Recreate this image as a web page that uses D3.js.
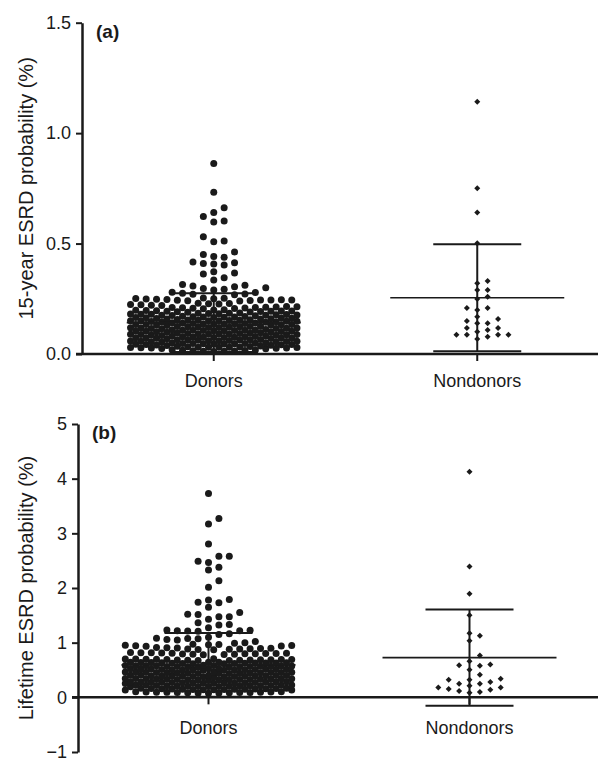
<!DOCTYPE html>
<html>
<head>
<meta charset="utf-8">
<script src="https://cdn.jsdelivr.net/npm/d3@7"></script>
<style>
  body { margin: 0; background: #fff; }
  svg { display: block; }
  text { font-family: "Liberation Sans", Arial, sans-serif; fill: #1a1a1a; }
</style>
</head>
<body>
<script>
// groups on the x axis
const groups = ["Donors", "Nondonors"];

// (a) 15-year ESRD probability (%)
const donorsA = [
  0.011,0.012,0.013,0.014,0.015,0.016,0.017,0.018,0.019,
  0.024,0.025,0.026,0.027,0.027,0.028,0.029,0.029,0.030,0.030,0.031,0.031,0.032,0.033,0.034,0.035,0.036,
  0.039,0.040,0.041,0.042,0.043,0.043,0.044,0.045,0.045,0.046,0.046,0.047,0.048,0.048,0.049,0.050,0.051,
  0.054,0.055,0.056,0.057,0.058,0.058,0.059,0.060,0.060,0.061,0.062,0.063,0.063,0.064,0.065,0.066,
  0.069,0.070,0.071,0.072,0.073,0.073,0.074,0.075,0.075,0.076,0.076,0.077,0.078,0.078,0.079,0.080,0.081,
  0.084,0.085,0.086,0.087,0.088,0.088,0.089,0.090,0.090,0.091,0.092,0.093,0.093,0.094,0.095,0.096,
  0.099,0.100,0.101,0.102,0.103,0.103,0.104,0.105,0.105,0.106,0.106,0.107,0.108,0.108,0.109,0.110,0.111,
  0.114,0.115,0.116,0.117,0.118,0.118,0.119,0.120,0.120,0.121,0.122,0.123,0.123,0.124,0.125,0.126,
  0.129,0.130,0.131,0.132,0.133,0.133,0.134,0.135,0.135,0.136,0.137,0.138,0.138,0.139,0.140,0.141,
  0.144,0.145,0.146,0.147,0.148,0.148,0.149,0.150,0.150,0.151,0.152,0.153,0.153,0.154,0.155,0.156,
  0.158,0.159,0.160,0.161,0.162,0.163,0.164,0.165,0.165,0.166,0.167,0.168,0.169,0.170,0.171,
  0.173,0.174,0.175,0.176,0.177,0.178,0.179,0.180,0.180,0.181,0.182,0.183,0.184,0.185,0.186,
  0.189,0.190,0.191,0.192,0.193,0.194,0.195,0.195,0.196,0.197,0.198,0.199,0.200,
  0.205,0.206,0.207,0.208,0.209,0.210,0.211,0.212,0.213,0.214,0.215,
  0.220,0.221,0.223,0.224,0.226,0.227,0.229,0.230,
  0.240,0.241,0.242,0.243,0.244,0.245,0.245,0.246,0.247,0.248,0.249,0.250,0.251,0.252,0.253,
  0.268,0.270,0.272,0.275,0.278,0.280,0.290,0.293,0.296,0.300,0.305,0.308,0.311,0.315,
  0.335,0.345,0.362,0.367,0.372,0.403,0.407,0.410,0.413,0.417,0.438,0.442,0.451,0.462,
  0.508,0.512,0.531,0.598,0.602,0.622,0.641,0.662,0.732,0.863
];
const nondonorsA = [
  1.142,0.750,0.641,0.501,0.330,0.320,0.290,0.290,0.259,0.249,0.208,0.208,0.199,0.169,
  0.158,0.149,0.139,0.139,0.118,0.118,0.109,0.101,0.087,0.087,0.087,0.087,0.078,0.068
];
const meanA = [0.142, 0.255];
const sdA = [0.133, 0.242];

// (b) lifetime ESRD probability (%)
const donorsB = [
  0.075,0.078,0.080,0.083,0.085,0.087,0.089,0.090,0.091,0.093,0.095,0.097,0.099,0.101,0.104,
  0.134,0.136,0.138,0.140,0.142,0.144,0.146,0.148,0.150,0.152,0.154,0.156,0.158,0.160,0.162,0.164,0.166,
  0.194,0.196,0.198,0.200,0.202,0.204,0.206,0.208,0.210,0.212,0.214,0.216,0.218,0.220,0.222,0.224,0.226,
  0.254,0.256,0.258,0.260,0.262,0.264,0.266,0.268,0.270,0.272,0.274,0.276,0.278,0.280,0.282,0.284,0.286,
  0.314,0.316,0.318,0.320,0.322,0.324,0.326,0.328,0.330,0.332,0.334,0.336,0.338,0.340,0.342,0.344,0.346,
  0.374,0.376,0.378,0.380,0.382,0.384,0.386,0.388,0.390,0.392,0.394,0.396,0.398,0.400,0.402,0.404,0.406,
  0.434,0.436,0.438,0.440,0.442,0.444,0.446,0.448,0.450,0.452,0.454,0.456,0.458,0.460,0.462,0.464,0.466,
  0.494,0.496,0.498,0.500,0.502,0.504,0.506,0.508,0.510,0.512,0.514,0.516,0.518,0.520,0.522,0.524,0.526,
  0.554,0.556,0.558,0.560,0.562,0.564,0.566,0.568,0.570,0.572,0.574,0.576,0.578,0.580,0.582,0.584,0.586,
  0.614,0.616,0.618,0.620,0.622,0.624,0.626,0.628,0.630,0.632,0.634,0.636,0.638,0.640,0.642,0.644,
  0.674,0.676,0.678,0.680,0.682,0.684,0.686,0.688,0.690,0.692,0.694,0.696,0.698,0.700,0.702,0.704,
  0.780,0.783,0.786,0.789,0.792,0.795,0.798,0.800,0.802,0.805,0.808,0.811,0.814,0.817,0.820,
  0.870,0.874,0.878,0.882,0.886,0.890,0.894,0.898,0.902,0.906,0.910,
  0.935,0.940,0.945,0.950,0.955,0.960,0.965,0.970,
  0.990,1.000,1.020,1.050,1.060,1.070,1.075,1.080,1.100,
  1.150,1.164,1.210,1.215,1.220,1.220,1.225,1.230,1.273,1.321,1.333,1.364,
  1.430,1.473,1.473,1.515,1.520,1.551,1.648,1.730,1.740,1.780,1.790,
  2.012,2.133,2.330,2.380,2.467,2.490,2.580,2.580,2.806,3.170,3.273,3.727
];
const nondonorsB = [
  4.127,2.394,1.897,1.503,1.170,1.127,1.036,0.764,0.661,0.600,0.588,0.580,0.503,0.412,
  0.339,0.321,0.321,0.279,0.248,0.248,0.212,0.182,0.182,0.152,0.139,0.115,0.097,0.085
];
const meanB = [0.594, 0.727];
const sdB = [0.585, 0.879];

const ticksA = [0, 0.5, 1.0, 1.5];
const ticksB = [-1, 0, 1, 2, 3, 4, 5];

const width = 598, height = 761;
const ink = "#1a1a1a";

const svg = d3.select("body").append("svg")
  .attr("width", width)
  .attr("height", height);

// column swarm: points go from low to high into the free column nearest the centre;
// when every column is taken they overlap (half-column steps allowed) where there is most room
function swarm(vals, y, step, dmin, maxOff) {
  const pts = vals.map(v => ({ v: v, y: y(v) })).sort((a, b) => d3.ascending(a.v, b.v));
  const cols = [0], half = [];
  for (let k = 1; k * step <= maxOff; k++) cols.push(k * step, -k * step);
  for (let k = 1; k * step / 2 <= maxOff; k += 2) half.push(k * step / 2, -k * step / 2);
  const placed = [];
  const clearance = (p, o) => {
    let c = Infinity;
    for (const q of placed) {
      const dy = Math.abs(q.y - p.y);
      if (dy >= dmin) continue;
      c = Math.min(c, Math.hypot(q.o - o, dy));
    }
    return c;
  };
  pts.forEach(p => {
    let best = null;
    for (const o of cols) {
      if (clearance(p, o) >= dmin) { best = o; break; }
    }
    if (best === null) {
      let bestC = -1;
      for (const o of cols.concat(half)) {
        const c = clearance(p, o);
        if (c > bestC) { bestC = c; best = o; }
      }
    }
    p.o = best;
    placed.push(p);
  });
  return pts;
}

function panel(cfg) {
  const g = svg.append("g");

  const y = d3.scaleLinear().domain(cfg.domain).range(cfg.yRange);
  const x = d3.scalePoint().domain(groups).range(cfg.xRange).padding(0.5);
  const y0 = y(0);

  // donors: round dots
  const dots = swarm(cfg.donors, y, 10.4, 7.2, 84);
  g.append("g").selectAll("circle")
    .data(dots)
    .join("circle")
    .attr("cx", d => x(groups[0]) + d.o)
    .attr("cy", d => d.y)
    .attr("r", 3.5)
    .attr("fill", ink);

  // nondonors: small diamonds
  const dia = swarm(cfg.nondonors, y, 10.4, 5.8, 55);
  g.append("g").selectAll("path")
    .data(dia)
    .join("path")
    .attr("d", d3.symbol(d3.symbolSquare, 18))
    .attr("transform", d => `translate(${x(groups[1]) + d.o},${d.y}) rotate(45)`)
    .attr("fill", ink);

  // mean and SD bars
  groups.forEach((grp, i) => {
    const cx = x(grp), m = cfg.mean[i], s = cfg.sd[i];
    g.append("line")
      .attr("x1", cx - 87).attr("x2", cx + 87)
      .attr("y1", y(m)).attr("y2", y(m))
      .attr("stroke", ink).attr("stroke-width", 1.6);
    g.append("line")
      .attr("x1", cx).attr("x2", cx)
      .attr("y1", y(m - s)).attr("y2", y(m + s))
      .attr("stroke", ink).attr("stroke-width", 2);
    [m - s, m + s].forEach(v => {
      g.append("line")
        .attr("x1", cx - 44).attr("x2", cx + 44)
        .attr("y1", y(v)).attr("y2", y(v))
        .attr("stroke", ink).attr("stroke-width", 2);
    });
  });

  // y axis
  const ya = g.append("g")
    .attr("transform", `translate(${cfg.left},0)`)
    .call(d3.axisLeft(y).tickValues(cfg.ticks).tickFormat(cfg.fmt).tickSize(6).tickPadding(5).tickSizeOuter(0));
  ya.select(".domain").attr("stroke", ink).attr("stroke-width", 2.5);
  ya.selectAll(".tick line").attr("stroke", ink).attr("stroke-width", 2);
  ya.selectAll(".tick text").attr("font-size", 18).attr("fill", ink)
    .attr("font-family", "'Liberation Sans', Arial, sans-serif");

  // x axis at zero
  g.append("line")
    .attr("x1", cfg.left - 6).attr("x2", width)
    .attr("y1", y0).attr("y2", y0)
    .attr("stroke", ink).attr("stroke-width", 2.5);
  g.append("g").selectAll("line")
    .data(groups)
    .join("line")
    .attr("x1", d => x(d)).attr("x2", d => x(d))
    .attr("y1", y0).attr("y2", y0 + 7)
    .attr("stroke", ink).attr("stroke-width", 2);
  g.append("g").selectAll("text")
    .data(groups)
    .join("text")
    .attr("x", d => x(d))
    .attr("y", cfg.labelY)
    .attr("text-anchor", "middle")
    .attr("font-size", 18)
    .text(d => d);

  // axis title and panel letter
  const my = (cfg.yRange[0] + cfg.yRange[1]) / 2;
  g.append("text")
    .attr("transform", `translate(${cfg.titleX},${my}) rotate(-90)`)
    .attr("text-anchor", "middle")
    .attr("font-size", 20)
    .text(cfg.title);
  g.append("text")
    .attr("x", cfg.left + 14)
    .attr("y", cfg.yRange[1] + 15)
    .attr("font-size", 19)
    .attr("font-weight", "bold")
    .text(cfg.letter);
}

panel({
  donors: donorsA, nondonors: nondonorsA, mean: meanA, sd: sdA,
  domain: [0, 1.5], yRange: [354, 22.7], ticks: ticksA, fmt: d3.format(".1f"),
  left: 82, xRange: [82, 609], labelY: 387, titleX: 33,
  title: "15-year ESRD probability (%)", letter: "(a)"
});

panel({
  donors: donorsB, nondonors: nondonorsB, mean: meanB, sd: sdB,
  domain: [-1, 5], yRange: [752, 424], ticks: ticksB, fmt: d3.format("d"),
  left: 78, xRange: [78, 600], labelY: 734, titleX: 33,
  title: "Lifetime ESRD probability (%)", letter: "(b)"
});
</script>
</body>
</html>
